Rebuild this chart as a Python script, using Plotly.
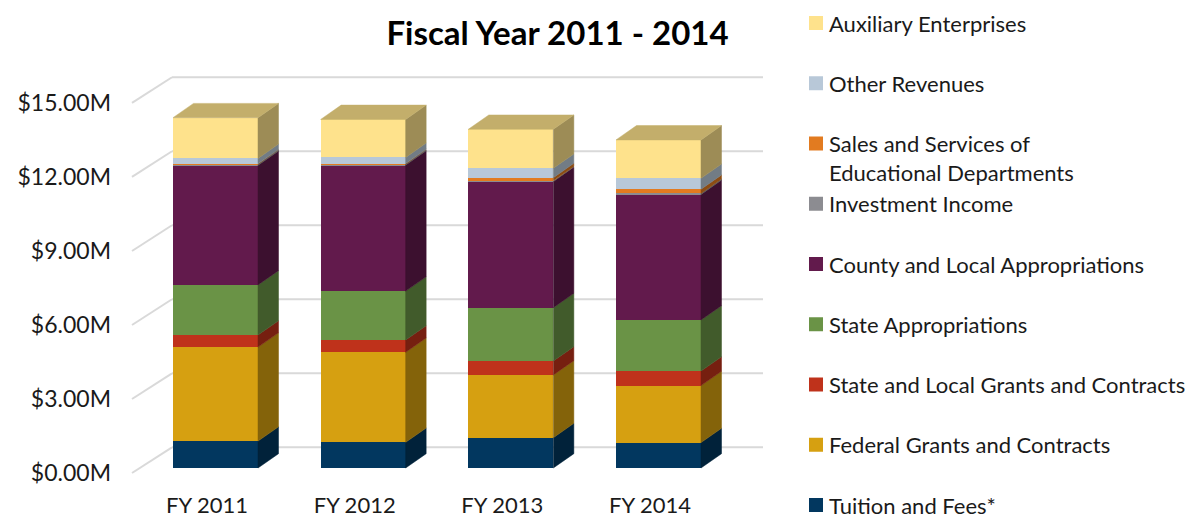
import plotly.graph_objects as go

# ---------------- data (values in $ millions) ----------------
years = ["FY 2011", "FY 2012", "FY 2013", "FY 2014"]

tuition_fees = [1.09, 1.04, 1.23, 1.03]
federal_grants = [3.81, 3.65, 2.54, 2.31]
state_local_grants = [0.49, 0.50, 0.57, 0.59]
state_appropriations = [2.03, 1.98, 2.16, 2.07]
county_local_appropriations = [4.85, 5.11, 5.11, 5.09]
investment_income = [0.04, 0.04, 0.03, 0.04]
sales_services = [0.02, 0.02, 0.13, 0.17]
other_revenues = [0.22, 0.25, 0.38, 0.44]
auxiliary_enterprises = [1.65, 1.54, 1.58, 1.56]

y_tick_values = [0, 3, 6, 9, 12, 15]
y_tick_labels = ["$0.00M", "$3.00M", "$6.00M", "$9.00M", "$12.00M", "$15.00M"]

# stacking order, bottom to top
series = [
    ("Tuition and Fees*", tuition_fees, "#02375F"),
    ("Federal Grants and Contracts", federal_grants, "#D6A011"),
    ("State and Local Grants and Contracts", state_local_grants, "#BF321B"),
    ("State Appropriations", state_appropriations, "#6A9346"),
    ("County and Local Appropriations", county_local_appropriations, "#621A4C"),
    ("Investment Income", investment_income, "#8C8C91"),
    ("Sales and Services of<br>Educational Departments", sales_services, "#E27B20"),
    ("Other Revenues", other_revenues, "#B8C8D8"),
    ("Auxiliary Enterprises", auxiliary_enterprises, "#FEE28C"),
]

# ---------------- geometry (pixels) ----------------
W, H = 1187, 518
L_PX, R_PX, T_PX, B_PX = 112, 780, 55, 490
X0_PX, STEP_PX = 215.5, 147.67       # first bar front-centre, category spacing
Y0_PX, PPM = 468.0, 24.67            # zero of bar front face, pixels per $M
BAR_W = 85 / STEP_PX
DX = 20.5 / STEP_PX                  # bar depth offset (x)
DY = 14.3 / PPM                      # bar depth offset (y)
FRONT_DROP = 5.0 / PPM               # floor front edge below bar front
BACK_RISE = 20.7 / PPM               # back wall above bar front
X_FRONT = (132 - X0_PX) / STEP_PX
X_BACK_L = (172 - X0_PX) / STEP_PX
X_BACK_R = (763 - X0_PX) / STEP_PX
LABEL_SHIFT = -8.5 / STEP_PX

x_range = [(L_PX - X0_PX) / STEP_PX, (R_PX - X0_PX) / STEP_PX]
y_range = [(Y0_PX - B_PX) / PPM, (Y0_PX - T_PX) / PPM]

FONT = "Lato"
TEXT_COLOR = "#1a1a1a"


def shade(hex_color, f):
    h = hex_color.lstrip("#")
    r, g, b = (int(h[i:i + 2], 16) for i in (0, 2, 4))
    return "#%02x%02x%02x" % (int(r * f), int(g * f), int(b * f))


fig = go.Figure()

xs = list(range(len(years)))
cum = [0.0] * len(years)
for name, vals, color in series:
    fig.add_trace(go.Bar(
        x=xs, y=vals, width=BAR_W, name=name.replace("<br>", " "),
        marker=dict(color=color, line=dict(width=0)),
        showlegend=False,
        hovertemplate="%{y:.2f}M<extra>" + name.replace("<br>", " ") + "</extra>",
    ))
    # side faces
    px_, py_ = [], []
    for i in xs:
        b, t = cum[i], cum[i] + vals[i]
        xr = i + BAR_W / 2
        px_ += [xr, xr + DX, xr + DX, xr, xr, None]
        py_ += [b, b + DY, t + DY, t, b, None]
    side = shade(color, 0.62)
    fig.add_trace(go.Scatter(
        x=px_, y=py_, mode="lines", fill="toself", fillcolor=side,
        line=dict(color=side, width=0.5), hoverinfo="skip", showlegend=False,
    ))
    cum = [cum[i] + vals[i] for i in xs]

# top faces of the stacks
top_color = shade(series[-1][2], 0.77)
tx, ty = [], []
for i in xs:
    xl, xr, t = i - BAR_W / 2, i + BAR_W / 2, cum[i]
    tx += [xl, xl + DX, xr + DX, xr, xl, None]
    ty += [t, t + DY, t + DY, t, t, None]
fig.add_trace(go.Scatter(
    x=tx, y=ty, mode="lines", fill="toself", fillcolor=top_color,
    line=dict(color=top_color, width=0.5), hoverinfo="skip", showlegend=False,
))

# dummy trace for the label axis
fig.add_trace(go.Scatter(x=[None], y=[None], yaxis="y2", showlegend=False, hoverinfo="skip"))

# gridlines: side wall diagonal + back wall horizontal
shapes = []
for v in y_tick_values:
    shapes.append(dict(type="line", xref="x", yref="y", layer="below",
                       x0=X_FRONT, y0=v - FRONT_DROP, x1=X_BACK_L, y1=v + BACK_RISE,
                       line=dict(color="#d9d9d9", width=2)))
    shapes.append(dict(type="line", xref="x", yref="y", layer="below",
                       x0=X_BACK_L, y0=v + BACK_RISE, x1=X_BACK_R, y1=v + BACK_RISE,
                       line=dict(color="#d9d9d9", width=2)))


# custom legend (paper coordinates)
def px2paper_x(p):
    return (p - L_PX) / (R_PX - L_PX)


def px2paper_y(p):
    return (B_PX - p) / (B_PX - T_PX)


annotations = []
LEG_Y0, LEG_STEP = 23.0, 60.25
for j, (name, vals, color) in enumerate(reversed(series)):
    cy = LEG_Y0 + LEG_STEP * j
    shapes.append(dict(type="rect", xref="paper", yref="paper", layer="above",
                       x0=px2paper_x(809), x1=px2paper_x(823),
                       y0=px2paper_y(cy + 7), y1=px2paper_y(cy - 7),
                       fillcolor=color, line=dict(width=0)))
    text_cy = cy + 14.5 if "<br>" in name else cy
    annotations.append(dict(xref="paper", yref="paper", x=px2paper_x(827), y=px2paper_y(text_cy),
                            xanchor="left", yanchor="middle", align="left", showarrow=False,
                            text=name, font=dict(family=FONT, size=22, color=TEXT_COLOR)))

fig.update_layout(
    width=W, height=H,
    margin=dict(l=L_PX, r=W - R_PX, t=T_PX, b=H - B_PX, autoexpand=False),
    paper_bgcolor="white", plot_bgcolor="white",
    barmode="stack", bargap=0,
    title=dict(text="<b>Fiscal Year 2011 - 2014</b>", x=557.5 / W, xanchor="center",
               y=1 - 33 / H, yanchor="middle", yref="container",
               font=dict(family=FONT, size=33, color="#000000")),
    xaxis=dict(range=x_range, tickvals=[i + LABEL_SHIFT for i in xs], ticktext=years,
               showgrid=False, zeroline=False, showline=False, ticks="",
               ticklabelstandoff=0,
               tickfont=dict(family=FONT, size=22, color=TEXT_COLOR), fixedrange=True),
    yaxis=dict(range=y_range, showticklabels=False, showgrid=False, zeroline=False,
               showline=False, ticks="", fixedrange=True),
    yaxis2=dict(range=[y_range[0] + FRONT_DROP, y_range[1] + FRONT_DROP], overlaying="y",
                side="left", tickvals=y_tick_values, ticktext=y_tick_labels,
                showgrid=False, zeroline=False, showline=False, ticks="",
                tickfont=dict(family=FONT, size=23, color=TEXT_COLOR), fixedrange=True),
    shapes=shapes,
    annotations=annotations,
    showlegend=False,
)

fig.write_html("out.html", config={"displayModeBar": False},
               post_script="document.body.style.margin='0px';")
